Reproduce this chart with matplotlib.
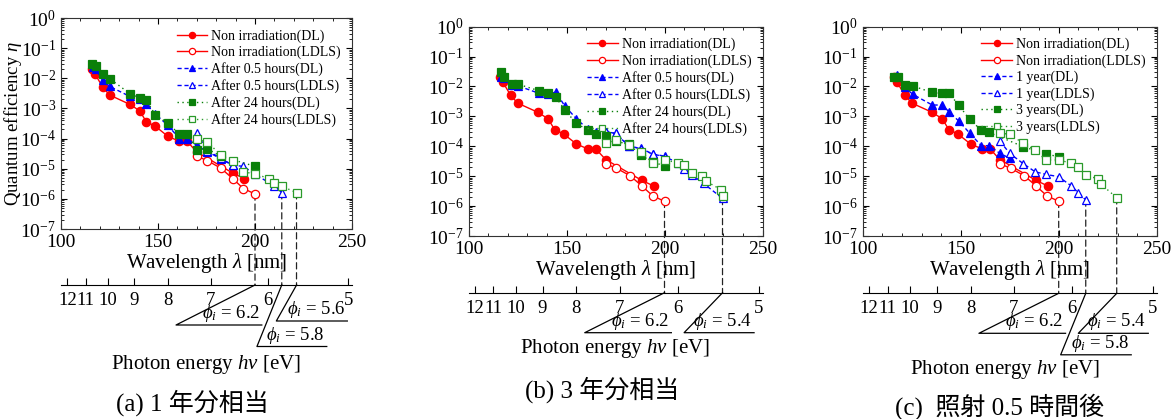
import matplotlib
matplotlib.use('Agg')
import matplotlib.pyplot as plt
from matplotlib.patches import ConnectionPatch
from matplotlib.ticker import LogLocator, MultipleLocator, NullFormatter

plt.rcParams['font.family'] = ['Liberation Serif', 'Noto Sans CJK JP']
plt.rcParams['mathtext.fontset'] = 'custom'
plt.rcParams['mathtext.rm'] = 'Liberation Serif'
plt.rcParams['mathtext.it'] = 'Liberation Serif:italic'
plt.rcParams['mathtext.fallback'] = 'stix'
plt.rcParams['axes.unicode_minus'] = False

W, H = 1174, 419

# non irradiation (same curve in all three panels)
wl_non_dl = [116, 117.5, 121.5, 125, 135.5, 140.5, 144, 148.5, 155, 161, 165, 170, 188.5, 194.5]
qe_non_dl = [0.021, 0.014, 0.0051, 0.0028, 0.00136, 0.00084, 0.00036, 0.00026, 0.00012,
             8.1e-5, 8.1e-5, 3.6e-5, 7.2e-6, 4.7e-6]
wl_non_ldls = [170, 175.5, 182.5, 188.5, 194, 200]
qe_non_ldls = [2.6e-5, 1.85e-5, 1.03e-5, 4.7e-6, 2.2e-6, 1.45e-6]

# (a) after 0.5 hours / 24 hours
wl_a_05_dl = [116.5, 118, 121.5, 125, 135.5, 140.5, 144, 148.5, 155, 161, 165, 170, 175.5, 182.5, 188.5]
qe_a_05_dl = [0.024, 0.02, 0.0085, 0.0054, 0.0025, 0.0021, 0.0014, 0.00065, 0.00028,
              0.0001, 0.0001, 5.9e-5, 3.7e-5, 2.1e-5, 1.3e-5]
wl_a_05_ldls = [170, 175.5, 182.5, 188.5, 194, 200, 210, 213.8]
qe_a_05_ldls = [1.5e-4, 4e-5, 2.2e-5, 1.3e-5, 1.2e-5, 6.5e-6, 2.7e-6, 1.6e-6]
wl_a_24_dl = [116, 118, 121.5, 125, 135.5, 140.5, 144, 148.5, 155, 161, 165, 170, 175.5, 182.5, 200]
qe_a_24_dl = [0.029, 0.026, 0.014, 0.0098, 0.0031, 0.0022, 0.0019, 0.00062, 0.00033,
              0.00014, 0.00014, 4.3e-5, 4.5e-5, 2.6e-5, 1.2e-5]
wl_a_24_ldls = [170, 175.5, 182.5, 188.5, 194, 200, 207, 210, 214, 221.4]
qe_a_24_ldls = [9.6e-5, 7.6e-5, 2.8e-5, 1.85e-5, 7.8e-6, 6.8e-6, 4.7e-6, 3.3e-6, 2.6e-6, 1.6e-6]

# (b) after 0.5 hours / 24 hours
wl_b_05_dl = [116.5, 118, 122, 125.5, 136, 140.5, 144.5, 149, 155, 161, 165, 170, 175, 182, 188, 194, 200]
qe_b_05_dl = [0.02, 0.019, 0.011, 0.0104, 0.0059, 0.0055, 0.0065, 0.0023, 0.00084, 0.00037,
              0.00031, 0.00031, 0.00027, 0.0001, 8.5e-5, 5.5e-5, 4.7e-5]
wl_b_05_ldls = [170, 175, 182, 188, 194, 200, 207, 210, 214, 220, 229.6]
qe_b_05_ldls = [3.1e-4, 2.7e-4, 1.05e-4, 8.1e-5, 5.5e-5, 4.5e-5, 2.8e-5, 1.8e-5, 1.1e-5, 5.7e-6, 1.8e-6]
wl_b_24_dl = [116.5, 118, 122, 125.5, 136, 140.5, 144.5, 149, 155, 161, 165, 170, 175, 182, 188, 194, 200]
qe_b_24_dl = [0.031, 0.021, 0.0118, 0.0118, 0.0072, 0.0062, 0.0044, 0.0017, 0.00058, 0.00035,
              0.00025, 0.00022, 0.00015, 0.000115, 5e-5, 3e-5, 2.2e-5]
wl_b_24_ldls = [170, 175, 182, 188, 194, 200, 207, 210, 214, 219, 221, 229, 229.6]
qe_b_24_ldls = [1.26e-4, 1.6e-4, 1.1e-4, 6.6e-5, 2.8e-5, 3.5e-5, 2.8e-5, 2.4e-5, 1.26e-5,
                1.05e-5, 6.9e-6, 3.5e-6, 2.2e-6]

# (c) 1 year / 3 years
wl_c_1y_dl = [117.5, 121.5, 125.5, 135.5, 140.5, 144, 149, 154.5, 160.5, 164.5, 170, 175]
qe_c_1y_dl = [0.024, 0.0093, 0.0055, 0.0024, 0.0024, 0.00144, 0.0007, 0.00028, 0.000105,
              0.000105, 5.8e-5, 4e-5]
wl_c_1y_ldls = [170, 175, 182, 188, 193.5, 200, 206.5, 210, 213.8]
qe_c_1y_ldls = [1.5e-4, 5.8e-5, 2.6e-5, 1.4e-5, 1.15e-5, 9.6e-6, 4.7e-6, 2.8e-6, 1.6e-6]
wl_c_3y_dl = [116, 118, 121.5, 125.5, 135.5, 140.5, 144, 149, 154.5, 160.5, 164.5, 182, 193.5, 200]
qe_c_3y_dl = [0.021, 0.021, 0.011, 0.0104, 0.0063, 0.0059, 0.0059, 0.0024, 0.00079, 0.00035,
              0.00029, 9.7e-5, 5.5e-5, 4.5e-5]
wl_c_3y_ldls = [170, 175, 182, 188, 193.5, 200, 206.5, 210, 213.8, 220, 221.5, 229.6]
qe_c_3y_ldls = [2.8e-4, 2.5e-4, 1.26e-4, 7.5e-5, 3.5e-5, 3.5e-5, 2.7e-5, 2.1e-5, 1.1e-5,
                8.1e-6, 5.5e-6, 1.9e-6]

labels_hours = ['Non irradiation(DL)', 'Non irradiation(LDLS)', 'After 0.5 hours(DL)',
                'After 0.5 hours(LDLS)', 'After 24 hours(DL)', 'After 24 hours(LDLS)']
labels_years = ['Non irradiation(DL)', 'Non irradiation(LDLS)', '1 year(DL)',
                '1 year(LDLS)', '3 years(DL)', '3 years(LDLS)']

energy_ticks = [12, 11, 10, 9, 8, 7, 6, 5]

# work functions marked under each panel, and which series ends at them (index into series)
phis_a = [(6.2, 1), (5.8, 3), (5.6, 5)]
phis_b = [(6.2, 1), (5.4, 3)]
phis_c = [(6.2, 1), (5.8, 3), (5.4, 5)]

captions = ['(a) 1 年分相当', '(b) 3 年分相当', '(c)  照射 0.5 時間後']

# drop below axis [px], left end, right end [nm] of each phi bracket
phi_layout = {6.2: (40, 159.3, 203.5), 5.8: (61.5, 201, 237),
              5.6: (36, 211, 247.6), 5.4: (40, 210, 245.7)}

styles = [dict(color='red', marker='o', ls='-', mfc='red'),
          dict(color='red', marker='o', ls='-', mfc='white'),
          dict(color='blue', marker='^', ls=(0, (3, 2)), mfc='blue'),
          dict(color='blue', marker='^', ls=(0, (3, 2)), mfc='white'),
          dict(color='#0a800a', marker='s', ls=(0, (1, 2.5)), mfc='#0a800a'),
          dict(color='#2a9a2a', marker='s', ls=(0, (1, 2.5)), mfc='white')]

fig = plt.figure(figsize=(W / 100, H / 100), dpi=100)


def box(left, top, width, height):
    return [left / W, 1 - (top + height) / H, width / W, height / H]


panels = [
    dict(geom=(61, 18, 291, 211, 285),
         series=[(wl_non_dl, qe_non_dl), (wl_non_ldls, qe_non_ldls), (wl_a_05_dl, qe_a_05_dl),
                 (wl_a_05_ldls, qe_a_05_ldls), (wl_a_24_dl, qe_a_24_dl), (wl_a_24_ldls, qe_a_24_ldls)],
         labels=labels_hours, phis=phis_a, elabel=(206, 364), cap=(192, 403), ylabel=True),
    dict(geom=(468.5, 26.7, 294, 209.3, 292.7),
         series=[(wl_non_dl, qe_non_dl), (wl_non_ldls, qe_non_ldls), (wl_b_05_dl, qe_b_05_dl),
                 (wl_b_05_ldls, qe_b_05_ldls), (wl_b_24_dl, qe_b_24_dl), (wl_b_24_ldls, qe_b_24_ldls)],
         labels=labels_hours, phis=phis_b, elabel=(615, 348), cap=(602, 390), ylabel=False),
    dict(geom=(862.7, 26.7, 294, 209.3, 293.3),
         series=[(wl_non_dl, qe_non_dl), (wl_non_ldls, qe_non_ldls), (wl_c_1y_dl, qe_c_1y_dl),
                 (wl_c_1y_ldls, qe_c_1y_ldls), (wl_c_3y_dl, qe_c_3y_dl), (wl_c_3y_ldls, qe_c_3y_ldls)],
         labels=labels_years, phis=phis_c, elabel=(1005, 369), cap=(1000, 407), ylabel=False),
]

for p, caption in zip(panels, captions):
    left, top, width, height, line_y = p['geom']

    #Main plot
    ax = fig.add_axes(box(left, top, width, height))
    ax.patch.set_visible(False)
    for (wl, qe), st, lab in zip(p['series'], styles, p['labels']):
        ax.plot(wl, qe, color=st['color'], ls=st['ls'], lw=1.0, marker=st['marker'],
                ms=6, mfc=st['mfc'], mec=st['color'], mew=0.9, label=lab)
    ax.set_yscale('log')
    ax.set_xlim(100, 250)
    ax.set_ylim(1e-7, 1)
    ax.xaxis.set_major_locator(MultipleLocator(50))
    ax.xaxis.set_minor_locator(MultipleLocator(10))
    ax.yaxis.set_major_locator(LogLocator(base=10, numticks=10))
    ax.yaxis.set_minor_locator(LogLocator(base=10, subs=range(2, 10), numticks=10))
    ax.yaxis.set_minor_formatter(NullFormatter())
    ax.tick_params(which='both', direction='in', top=True, right=True, labelsize=14)
    ax.tick_params(which='major', length=4)
    ax.tick_params(which='minor', length=2)
    for s in ax.spines.values():
        s.set_linewidth(0.8)
        s.set_color('#333333')
    ax.set_xlabel(r'Wavelength $\lambda$ [nm]', fontsize=15, labelpad=0)
    if p['ylabel']:
        ax.set_ylabel(r'Quantum efficiency $\eta$', fontsize=13.5)
        ax.yaxis.set_label_coords(-0.128, 0.5)
    ax.legend(loc='upper right', frameon=False, fontsize=10, handlelength=2.2,
              handletextpad=0.3, labelspacing=0.22, borderaxespad=0.4, markerscale=0.75)

    #Photon energy axis under the plot
    ax_e = fig.add_axes(box(left, line_y - 10, width, 10))
    ax_e.patch.set_visible(False)
    ax_e.set_xlim(100, 250)
    ax_e.set_ylim(0, 10)
    for s in ['top', 'left', 'right']:
        ax_e.spines[s].set_visible(False)
    ax_e.spines['bottom'].set_linewidth(0.8)
    ax_e.set_yticks([])
    ax_e.set_xticks([1240 / e for e in energy_ticks])
    ax_e.set_xticklabels([str(e) for e in energy_ticks])
    ax_e.tick_params(axis='x', direction='in', length=5, pad=5, labelsize=13.5)

    #Dashed drop lines and phi brackets
    for phi, idx in p['phis']:
        wl, qe = p['series'][idx]
        con = ConnectionPatch(xyA=(wl[-1], qe[-1]), coordsA=ax.transData,
                              xyB=(wl[-1], 0), coordsB=ax_e.transData,
                              ls=(0, (5, 3)), lw=0.9, color='#222222', zorder=-1)
        fig.add_artist(con)
        drop, x_left, x_right = phi_layout[phi]
        ax_e.plot([1240 / phi, x_left, x_right], [0, -drop, -drop], color='black', lw=0.9,
                  clip_on=False)
        ax_e.text(x_right - 1, -drop + 1, r'$\phi_i$ = %.1f' % phi, ha='right', va='bottom',
                  fontsize=13.5, clip_on=False)

    fig.text(p['elabel'][0] / W, 1 - p['elabel'][1] / H, r'Photon energy $h\nu$ [eV]',
             ha='center', va='center', fontsize=15)
    fig.text(p['cap'][0] / W, 1 - p['cap'][1] / H, caption, ha='center', va='center',
             fontsize=18)

fig.savefig('out.png', dpi=100)
